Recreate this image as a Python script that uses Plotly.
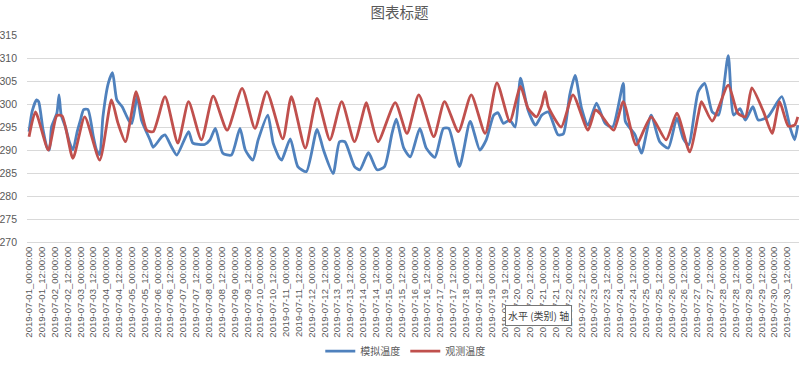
import pandas as pd
import plotly.graph_objects as go

start = pd.Timestamp("2019-07-01 00:00:00")

# observed temperature (红 观测温度): hours since start, value (K)
obs_hours = [0, 6, 18, 26, 31, 41, 52, 66, 77, 83, 90, 100, 104, 110, 116, 127, 139, 149, 161, 172,
             185, 199, 211, 222, 237, 245, 258, 269, 281, 292, 304, 315, 318, 326, 342, 353, 364, 378,
             388, 401, 413, 426, 437, 449, 459, 466, 474, 479, 482, 485, 497, 508, 522, 529, 533, 546,
             555, 567, 581, 595, 605, 617, 625, 628, 638, 653, 662, 669, 675, 686, 694, 701, 709, 715, 718]
obs_values = [292.9, 298.3, 290.0, 297.5, 297.4, 288.2, 297.2, 287.8, 300.9, 295.9, 291.8, 302.7, 299.4,
              294.3, 294.0, 301.6, 291.5, 300.5, 292.2, 301.7, 294.3, 303.4, 294.7, 302.7, 292.4, 301.6,
              290.4, 301.2, 292.2, 300.5, 291.8, 300.3, 298.0, 291.8, 300.3, 293.6, 302.0, 292.9, 300.5,
              294.0, 302.0, 293.6, 304.6, 296.2, 303.8, 299.1, 297.2, 299.8, 302.7, 299.4, 295.0, 302.0,
              294.3, 298.7, 298.0, 294.3, 300.5, 291.1, 297.2, 292.2, 298.0, 289.6, 297.6, 300.5, 296.3,
              304.1, 298.0, 297.2, 303.5, 298.3, 293.6, 300.5, 295.2, 295.4, 297.2]

# simulated temperature (蓝 模拟温度)
sim_hours = [0, 3, 7, 9, 13, 17, 19, 21, 26, 28, 30, 34, 38, 41, 45, 48, 51, 55, 60, 63, 66, 69, 74, 78,
             82, 87, 93, 96, 101, 105, 113, 116, 124, 127, 133, 138, 149, 153, 164, 169, 174, 181, 189,
             197, 202, 209, 214, 223, 228, 234, 236, 244, 251, 259, 269, 275, 284, 290, 295, 304, 309,
             317, 325, 332, 339, 343, 350, 356, 365, 371, 379, 387, 392, 402, 412, 421, 427, 434, 438,
             443, 449, 454, 459, 466, 473, 479, 485, 494, 499, 505, 510, 516, 522, 530, 538, 545, 555,
             557, 566, 572, 581, 589, 597, 605, 611, 616, 625, 631, 638, 644, 653, 658, 664, 669, 676,
             681, 690, 703, 711, 715, 718]
sim_values = [294.0, 298.5, 300.9, 300.5, 294.5, 290.4, 290.0, 295.0, 298.0, 302.0, 297.6, 295.0, 291.5,
              290.0, 294.0, 296.5, 298.8, 298.8, 293.0, 290.0, 289.0, 297.2, 304.5, 306.8, 300.9, 299.4,
              296.5, 295.8, 301.6, 296.5, 292.2, 290.6, 292.9, 293.3, 290.7, 288.9, 294.0, 291.5, 291.2,
              292.2, 294.7, 289.3, 288.9, 294.7, 290.0, 287.8, 292.2, 297.6, 291.5, 288.2, 287.8, 292.4,
              286.4, 285.3, 294.5, 290.0, 284.9, 291.8, 291.8, 286.4, 285.7, 289.4, 285.7, 286.4, 293.6,
              296.7, 290.4, 288.5, 294.7, 290.4, 288.4, 294.7, 294.7, 286.4, 296.2, 290.0, 292.2, 297.6,
              298.1, 295.8, 296.5, 295.0, 305.6, 298.7, 295.4, 297.6, 298.3, 293.3, 293.5, 302.0, 306.2,
              299.1, 295.4, 300.2, 295.8, 295.0, 304.5, 296.2, 293.3, 289.3, 297.6, 291.8, 290.4, 296.9,
              292.5, 291.1, 302.7, 304.5, 298.3, 297.6, 310.5, 297.6, 299.0, 296.5, 299.4, 296.5, 297.2,
              301.6, 294.7, 292.2, 295.4]

series_names = ["模拟温度", "观测温度"]
y_ticks = [270, 275, 280, 285, 290, 295, 300, 305, 310, 315]

sim_x = start + pd.to_timedelta(sim_hours, unit="h")
obs_x = start + pd.to_timedelta(obs_hours, unit="h")

fig = go.Figure()
fig.add_trace(go.Scatter(x=sim_x, y=sim_values, name=series_names[0], mode="lines",
                         line=dict(color="#4F81BD", width=2.8, shape="spline", smoothing=0.6)))
fig.add_trace(go.Scatter(x=obs_x, y=obs_values, name=series_names[1], mode="lines",
                         line=dict(color="#C0504D", width=2.8, shape="spline", smoothing=0.6)))

fig.update_layout(
    width=799, height=366,
    margin=dict(l=27, r=0, t=35, b=124, autoexpand=False),
    paper_bgcolor="white", plot_bgcolor="white",
    font=dict(family="Liberation Sans, Noto Sans CJK SC", color="#595959"),
    title=dict(text="图表标题", x=0.5, xanchor="center", y=0.965, yanchor="middle",
               font=dict(family="Noto Sans CJK SC", size=14.5, color="#595959")),
    legend=dict(orientation="h", x=0.49, xanchor="center", y=-0.527, yanchor="middle",
                font=dict(family="Noto Sans CJK SC", size=10, color="#595959"),
                itemwidth=30, bgcolor="rgba(0,0,0,0)"),
    showlegend=True,
)
fig.update_xaxes(
    type="date", automargin=False,
    range=[start - pd.Timedelta(hours=1.9), start + pd.Timedelta(hours=719.1)],
    tick0=start, dtick=12 * 3600 * 1000,
    tickformat="%Y-%m-%d_%H:%M:%S", tickangle=-90,
    tickfont=dict(size=9.5, color="#595959"),
    showgrid=False, showline=True, linecolor="#d9d9d9", linewidth=1,
    ticks="", zeroline=False,
)
fig.update_yaxes(
    range=[270, 315], tickvals=y_ticks, automargin=False,
    tickfont=dict(size=10.5, color="#595959"),
    showgrid=True, gridcolor="#d9d9d9", gridwidth=1,
    showline=False, zeroline=False, ticks="", ticklabelstandoff=9,
)
fig.add_annotation(
    text="水平 (类别) 轴", xref="paper", yref="paper", x=0.662, y=-0.357,
    xanchor="center", yanchor="middle", showarrow=False,
    font=dict(family="Noto Sans CJK SC", size=10, color="#404040"),
    bgcolor="white", bordercolor="#767676", borderwidth=1, borderpad=2,
)

fig.write_html("out.html", config={"displayModeBar": False},
               post_script="document.body.style.margin='0';document.body.style.overflow='hidden';")
